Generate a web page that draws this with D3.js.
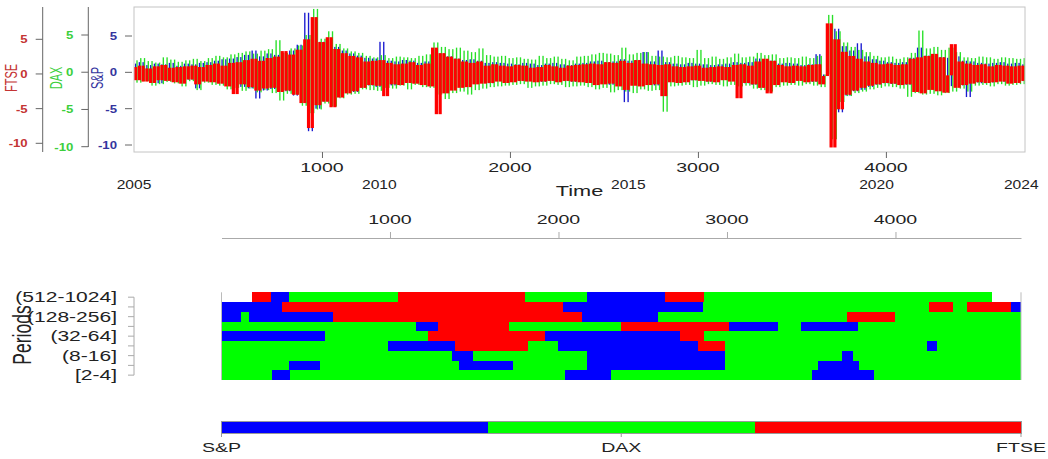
<!DOCTYPE html>
<html lang="en">
<head>
<meta charset="utf-8">
<title>S&amp;P, DAX, FTSE returns and leading market by period</title>
<script src="https://d3js.org/d3.v7.min.js"></script>
<style>
  body { margin: 0; background: #fff; }
  svg { display: block; }
  svg text { font-family: "Liberation Sans", Arial, sans-serif; }
</style>
</head>
<body>
<div id="chart"></div>
<script>
// daily returns, one reading every 20 trading days
var step = 20;

var spReturns = [
  1.2,-1.0,1.4,-1.1,1.0,-1.3,1.2,-1.5,1.1,-1.0,1.3,-1.2,0.9,-1.4,1.2,-1.0,1.1,-2.2,1.3,-1.1,
  1.4,-1.3,1.6,-1.5,1.8,-1.6,1.9,-1.7,2.1,-2.0,2.4,-2.2,3.0,-3.6,2.2,-2.5,2.6,-2.3,2.4,-2.7,
  2.8,-2.6,3.0,-3.2,3.8,-4.0,8.2,-8.1,4.5,-5.0,4.2,-4.0,4.6,-4.4,3.5,-3.2,3.0,-2.8,2.6,-2.7,
  2.3,-2.1,2.0,-1.8,1.9,-2.0,4.2,-1.7,1.6,-1.8,1.5,-1.6,1.7,-1.4,1.6,-1.5,1.3,-1.6,1.5,-1.4,
  2.8,-3.2,2.6,-2.4,2.2,-2.0,1.9,-1.8,1.7,-1.6,1.8,-1.5,1.6,-1.4,1.3,-1.5,1.4,-1.2,1.3,-1.4,
  1.2,-1.3,1.1,-1.2,1.3,-1.0,1.2,-1.1,1.0,-1.3,1.2,-1.1,1.3,-1.0,1.1,-1.2,1.0,-1.3,1.2,-1.1,
  1.3,-1.4,1.5,-1.3,1.6,-1.5,1.4,-1.7,1.5,-1.6,1.8,-4.1,1.6,-1.5,1.7,-1.3,2.8,-1.6,1.5,-1.8,
  3.0,-2.2,1.4,-1.3,1.2,-1.4,1.1,-1.2,1.3,-1.1,1.2,-1.0,1.1,-1.3,1.0,-1.2,1.1,-1.0,1.2,-1.1,
  1.4,-1.6,1.3,-1.5,1.4,-1.7,1.9,-2.1,1.8,-2.0,1.6,-1.4,1.2,-1.1,1.3,-1.0,1.2,-1.1,1.0,-1.2,
  1.1,-1.3,2.5,-1.4,-0.3,5.5,-8.0,6.0,-5.5,3.6,-3.2,3.0,-2.6,4.0,-2.4,2.2,-2.0,1.8,-1.7,1.6,
  -1.5,1.4,-1.6,1.3,-1.5,1.4,-1.7,2.0,-2.2,3.4,-2.1,2.3,-2.0,2.4,-2.2,2.1,-2.3,2.0,-1.9,2.2,
  -1.8,1.6,-3.4,1.5,-1.4,1.3,-1.5,1.2,-1.4,1.3,-1.2,1.4,-1.3,1.2,-1.1,1.3,-1.2,1.1
];

var daxReturns = [
  1.6,-1.4,1.9,-1.2,1.5,-1.8,1.3,-1.6,2.0,-1.3,1.7,-1.5,1.4,-1.9,1.6,-1.2,1.8,-2.4,1.5,-1.4,
  1.9,-1.7,2.2,-1.8,2.0,-2.3,2.4,-2.1,2.6,-2.5,2.8,-2.2,2.5,-2.7,2.9,-2.4,3.1,-2.8,4.3,-3.8,
  2.6,-2.9,3.2,-3.0,3.6,-4.5,5.0,-5.5,8.5,-5.0,4.5,-4.2,5.5,-4.6,3.8,-3.5,3.2,-3.0,2.8,-2.9,
  2.6,-2.3,2.2,-2.4,2.0,-2.5,2.3,-2.1,1.9,-2.2,2.1,-1.8,2.0,-2.3,1.9,-1.7,2.2,-2.0,2.4,-2.1,
  4.0,-3.0,3.4,-3.6,3.1,-2.8,3.3,-2.6,2.9,-3.0,2.7,-2.4,3.2,-2.2,2.3,-2.0,2.1,-1.9,2.2,-1.8,
  1.9,-1.7,2.0,-1.6,1.8,-2.1,1.7,-1.9,2.2,-1.8,1.9,-1.6,2.1,-1.7,1.8,-2.0,1.6,-1.9,2.1,-1.8,
  2.2,-2.0,2.4,-2.3,2.6,-2.1,2.5,-2.7,2.3,-2.4,3.3,-2.6,2.4,-2.8,2.6,-2.3,2.7,-2.5,2.2,-2.4,
  2.1,-5.3,2.0,-1.9,2.2,-1.8,2.0,-1.7,1.9,-2.0,3.0,-1.8,1.9,-1.6,2.1,-1.7,1.8,-1.9,2.0,-1.7,
  2.5,-1.9,2.0,-1.8,2.1,-2.2,2.6,-2.4,2.3,-2.6,2.4,-2.0,1.9,-1.8,2.0,-1.7,1.9,-1.8,2.1,-1.6,
  1.9,-1.8,2.2,-2.0,-0.3,7.7,-9.0,5.5,-4.0,4.0,-3.2,3.4,-2.8,3.0,-2.6,2.7,-2.3,2.2,-2.1,2.0,
  -1.9,2.1,-2.0,1.8,-2.2,2.0,-3.3,2.6,-2.8,5.6,-3.0,3.2,-2.9,3.4,-3.1,3.0,-2.8,3.3,-2.6,2.7,
  -2.2,2.0,-2.6,1.9,-1.8,2.1,-1.7,2.0,-1.9,1.8,-1.6,2.0,-1.8,1.9,-1.7,1.8,-1.6,1.9
];

var ftseReturns = [
  1.0,-0.9,1.2,-1.1,0.8,-1.3,1.1,-0.9,1.3,-1.0,0.9,-1.2,1.0,-1.4,1.1,-0.8,1.2,-1.5,1.0,-1.1,
  1.3,-1.2,1.5,-1.4,1.2,-1.8,1.6,-2.9,1.7,-1.5,2.0,-1.9,2.2,-2.4,1.9,-2.1,2.3,-2.0,2.5,-2.6,
  3.3,-2.4,2.8,-3.0,3.5,-4.2,5.0,-7.8,8.2,-4.5,4.6,-4.0,5.3,-4.8,3.6,-3.4,3.0,-2.8,2.6,-2.5,
  2.4,-2.0,1.8,-1.6,1.9,-1.7,2.0,-3.2,1.6,-1.5,1.4,-1.6,1.5,-1.3,1.7,-1.4,1.3,-1.6,1.5,-1.8,
  3.8,-5.8,3.0,-2.8,2.5,-2.4,2.2,-2.0,1.8,-1.9,1.6,-1.5,1.8,-1.4,1.2,-1.3,1.4,-1.1,1.2,-1.3,
  1.1,-1.2,1.3,-1.0,1.2,-1.1,0.9,-1.2,1.0,-1.1,1.3,-1.0,1.1,-1.2,0.9,-1.0,1.2,-1.1,1.3,-1.2,
  1.4,-1.3,1.5,-1.6,1.4,-1.5,1.7,-1.4,1.6,-1.8,1.9,-2.3,1.6,-1.7,2.0,-1.8,1.5,-1.6,1.4,-1.5,
  1.3,-3.2,1.4,-1.2,1.1,-1.3,1.0,-1.2,1.1,-0.9,1.2,-1.0,0.9,-1.1,1.0,-1.2,1.1,-0.9,1.0,-1.1,
  1.3,-3.5,1.4,-1.3,1.2,-1.5,1.8,-2.0,2.2,-2.8,1.9,-1.6,1.3,-1.2,1.1,-1.3,1.2,-1.0,1.1,-1.2,
  1.3,-1.1,1.4,-1.5,-0.3,7.3,-10.6,5.0,-5.1,3.2,-3.0,2.6,-2.4,2.2,-2.0,1.8,-1.7,1.6,-1.5,1.4,
  -1.3,1.5,-1.4,1.3,-1.6,1.4,-1.5,2.2,-2.6,2.4,-2.8,2.6,-2.3,2.9,-2.5,2.4,-2.7,-0.2,4.3,-2.0,
  1.8,-1.6,1.5,-1.4,1.3,-1.2,1.4,-1.3,1.1,-1.2,1.3,-1.1,1.2,-1.4,1.1,-1.3,1.2,-1.0
];

var yTicks = [5, 0, -5, -10];
var timeTicks = [1000, 2000, 3000, 4000];
var yearLabels = ["2005", "2010", "2015", "2020", "2024"];
var yearTimes = [0, 1305, 2630, 3950, 4720];

var markets = ["S&P", "DAX", "FTSE"];
var periods = ["(512-1024]", "(256-512]", "(128-256]", "(64-128]", "(32-64]",
               "(16-32]", "(8-16]", "(4-8]", "[2-4]"];

// leading market in each period band over time: [from, to, market]
var leadRuns = [
  [[179,294,"FTSE"],[294,399,"S&P"],[399,1046,"DAX"],[1046,1803,"FTSE"],[1803,2169,"DAX"],[2169,2635,"S&P"],[2635,2865,"FTSE"],[2865,4573,"DAX"]],
  [[0,357,"S&P"],[357,2024,"FTSE"],[2024,2858,"S&P"],[2858,4197,"DAX"],[4197,4339,"FTSE"],[4339,4424,"DAX"],[4424,4686,"FTSE"],[4686,4745,"S&P"]],
  [[0,117,"S&P"],[117,165,"DAX"],[165,660,"S&P"],[660,2138,"FTSE"],[2138,2592,"S&P"],[2592,3712,"DAX"],[3712,4000,"FTSE"],[4000,4745,"DAX"]],
  [[0,1156,"DAX"],[1156,1283,"S&P"],[1283,1709,"FTSE"],[1709,2371,"DAX"],[2371,3014,"FTSE"],[3014,3301,"S&P"],[3301,3439,"DAX"],[3439,3776,"S&P"],[3776,4745,"DAX"]],
  [[0,614,"S&P"],[614,1223,"DAX"],[1223,1921,"FTSE"],[1921,2723,"S&P"],[2723,2865,"FTSE"],[2865,4745,"DAX"]],
  [[0,990,"DAX"],[990,1386,"S&P"],[1386,1822,"FTSE"],[1822,2000,"DAX"],[2000,2826,"S&P"],[2826,2991,"FTSE"],[2991,4185,"DAX"],[4185,4245,"S&P"],[4245,4745,"DAX"]],
  [[0,1368,"DAX"],[1368,1494,"S&P"],[1494,2167,"DAX"],[2167,2991,"S&P"],[2991,3683,"DAX"],[3683,3745,"S&P"],[3745,4745,"DAX"]],
  [[0,399,"DAX"],[399,585,"S&P"],[585,1411,"DAX"],[1411,1733,"S&P"],[1733,2167,"DAX"],[2167,2991,"S&P"],[2991,3543,"DAX"],[3543,3785,"S&P"],[3785,4745,"DAX"]],
  [[0,298,"DAX"],[298,406,"S&P"],[406,2039,"DAX"],[2039,2309,"S&P"],[2309,3504,"DAX"],[3504,3874,"S&P"],[3874,4745,"DAX"]]
];

var width = 1048;
var height = 459;
var svg = d3.select("#chart")
  .append("svg")
  .attr("width", width)
  .attr("height", height);

// text in the picture is stretched sideways
function stretchText(parent, x, y, txt, size, sx, anchor, fill) {
  return parent.append("text")
    .attr("transform", `translate(${x},${y}) scale(${sx},1)`)
    .attr("text-anchor", anchor)
    .attr("font-size", size)
    .attr("fill", fill || "#222")
    .text(txt);
}

// ---- top panel: returns ----
var box = {left: 134, right: 1025, top: 7, bottom: 152};
var x = d3.scaleLinear().domain([0, 4740]).range([box.left, box.right]);
var stepW = x(step) - x(0);

var series = [
  {name: "S&P", values: spReturns, color: "#1a1ad0", label: "#34349e", barW: 0.36, shift: 0.25,
   y: d3.scaleLinear().domain([-10, 5]).range([145, 36]), axisX: 132, lineTop: null, titleX: 103},
  {name: "DAX", values: daxReturns, color: "#28e028", label: "#3ccf3c", barW: 0.36, shift: 0.62,
   y: d3.scaleLinear().domain([-10, 5]).range([146.7, 35]), axisX: 88.3, lineTop: [7, 147], titleX: 62},
  {name: "FTSE", values: ftseReturns, color: "#ff0000", label: "#c43434", barW: 0.86, shift: 0,
   y: d3.scaleLinear().domain([-10, 5]).range([143.3, 39.3]), axisX: 42.7, lineTop: [7, 152], titleX: 17}
];

svg.append("clipPath").attr("id", "plotClip")
  .append("rect")
  .attr("x", box.left).attr("y", box.top)
  .attr("width", box.right - box.left).attr("height", box.bottom - box.top);

// each 20-day stretch is drawn as the swing between two readings
var lines = svg.append("g").attr("clip-path", "url(#plotClip)");
series.forEach(function(s) {
  var pairs = d3.pairs(s.values);
  lines.append("g")
    .selectAll("rect")
    .data(pairs)
    .enter().append("rect")
    .attr("x", (d, i) => x(i * step) + s.shift * stepW)
    .attr("width", s.barW * stepW)
    .attr("y", d => s.y(Math.max(d[0], d[1])))
    .attr("height", d => s.y(Math.min(d[0], d[1])) - s.y(Math.max(d[0], d[1])))
    .attr("fill", s.color);
});

svg.append("rect")
  .attr("x", box.left).attr("y", box.top)
  .attr("width", box.right - box.left).attr("height", box.bottom - box.top)
  .attr("fill", "none")
  .attr("stroke", "#c4c4c4");

// three left axes, one per market
series.forEach(function(s) {
  var g = svg.append("g");
  if (s.lineTop) {
    g.append("line")
      .attr("x1", s.axisX).attr("x2", s.axisX)
      .attr("y1", s.lineTop[0]).attr("y2", s.lineTop[1])
      .attr("stroke", "#666");
  }
  yTicks.forEach(function(t) {
    g.append("line")
      .attr("x1", s.axisX - 7).attr("x2", s.axisX)
      .attr("y1", s.y(t)).attr("y2", s.y(t))
      .attr("stroke", "#666");
    stretchText(g, s.axisX - 15, s.y(t) + 4, t, 11, 1.2, "end", s.label)
      .attr("font-weight", "bold");
  });
  g.append("text")
    .attr("transform", `translate(${s.titleX},78) scale(1.45,1) rotate(-90)`)
    .attr("text-anchor", "middle")
    .attr("font-size", 11)
    .attr("fill", s.label)
    .text(s.name);
});

var xAxis = svg.append("g")
  .attr("transform", `translate(0,${box.bottom})`)
  .call(d3.axisBottom(x).tickValues(timeTicks).tickSize(6).tickSizeOuter(0));
xAxis.select(".domain").remove();
xAxis.selectAll("line").attr("stroke", "#666");
xAxis.selectAll("text").remove();
timeTicks.forEach(function(t) {
  stretchText(svg, x(t), 172, t, 13.5, 1.45, "middle");
});

yearLabels.forEach(function(lab, i) {
  stretchText(svg, x(yearTimes[i]), 189, lab, 12, 1.3, "middle");
});

stretchText(svg, x(2370), 196, "Time", 15, 1.45, "middle");

// ---- bottom panel: leading market per period ----
var xh = d3.scaleLinear().domain([0, 4745]).range([221.5, 1021]);
var yh = d3.scaleBand().domain(periods).range([292.3, 380]);
var colour = d3.scaleOrdinal().domain(markets).range(["#0000ff", "#00ff00", "#ff0000"]);

var topAxis = svg.append("g")
  .attr("transform", "translate(0,238)")
  .call(d3.axisTop(xh).tickValues(timeTicks).tickSize(6).tickSizeOuter(0));
topAxis.selectAll("path, line").attr("stroke", "#aaa");
topAxis.selectAll("text").remove();
timeTicks.forEach(function(t) {
  stretchText(svg, xh(t), 224, t, 13.5, 1.45, "middle");
});

var heat = svg.append("g").attr("shape-rendering", "crispEdges");
leadRuns.forEach(function(runs, r) {
  heat.selectAll(null)
    .data(runs)
    .enter().append("rect")
    .attr("x", d => xh(d[0]))
    .attr("y", yh(periods[r]))
    .attr("width", d => xh(d[1]) - xh(d[0]))
    .attr("height", yh.bandwidth())
    .attr("fill", d => colour(d[2]));
});

[0, 4745].forEach(function(t) {
  svg.append("line")
    .attr("x1", xh(t)).attr("x2", xh(t))
    .attr("y1", 292.3).attr("y2", 380)
    .attr("stroke", "#bbb");
});

// period axis on the left
var pAxis = svg.append("g");
var bw = yh.bandwidth();
pAxis.append("line")
  .attr("x1", 134).attr("x2", 134)
  .attr("y1", yh(periods[0]) + bw / 2).attr("y2", yh(periods[periods.length - 1]) + bw / 2)
  .attr("stroke", "#aaa");
periods.forEach(function(p, i) {
  var cy = yh(p) + bw / 2;
  pAxis.append("line")
    .attr("x1", 128).attr("x2", 134)
    .attr("y1", cy).attr("y2", cy)
    .attr("stroke", "#aaa");
  if (i % 2 === 0) {
    stretchText(pAxis, 117, cy + 5, p, 14.5, 1.45, "end");
  }
});

svg.append("text")
  .attr("transform", "translate(31,335) scale(1.45,1) rotate(-90)")
  .attr("text-anchor", "middle")
  .attr("font-size", 17.5)
  .attr("fill", "#222")
  .text("Periods");

// ---- colour key ----
var kx = d3.scaleLinear().domain([0, markets.length]).range([221.5, 1021]);
var key = svg.append("g").attr("shape-rendering", "crispEdges");
key.selectAll("rect")
  .data(markets)
  .enter().append("rect")
  .attr("x", (d, i) => kx(i))
  .attr("y", 421)
  .attr("width", (d, i) => kx(i + 1) - kx(i))
  .attr("height", 12)
  .attr("fill", d => colour(d));
key.append("rect")
  .attr("x", kx(0)).attr("y", 421)
  .attr("width", kx(3) - kx(0)).attr("height", 12)
  .attr("fill", "none").attr("stroke", "#999");

var keyPos = [0, 1.5, 3];
markets.forEach(function(m, i) {
  svg.append("line")
    .attr("x1", kx(keyPos[i])).attr("x2", kx(keyPos[i]))
    .attr("y1", 433).attr("y2", 437)
    .attr("stroke", "#999");
  stretchText(svg, kx(keyPos[i]), 452, m, 13.5, 1.45, "middle");
});
</script>
</body>
</html>
